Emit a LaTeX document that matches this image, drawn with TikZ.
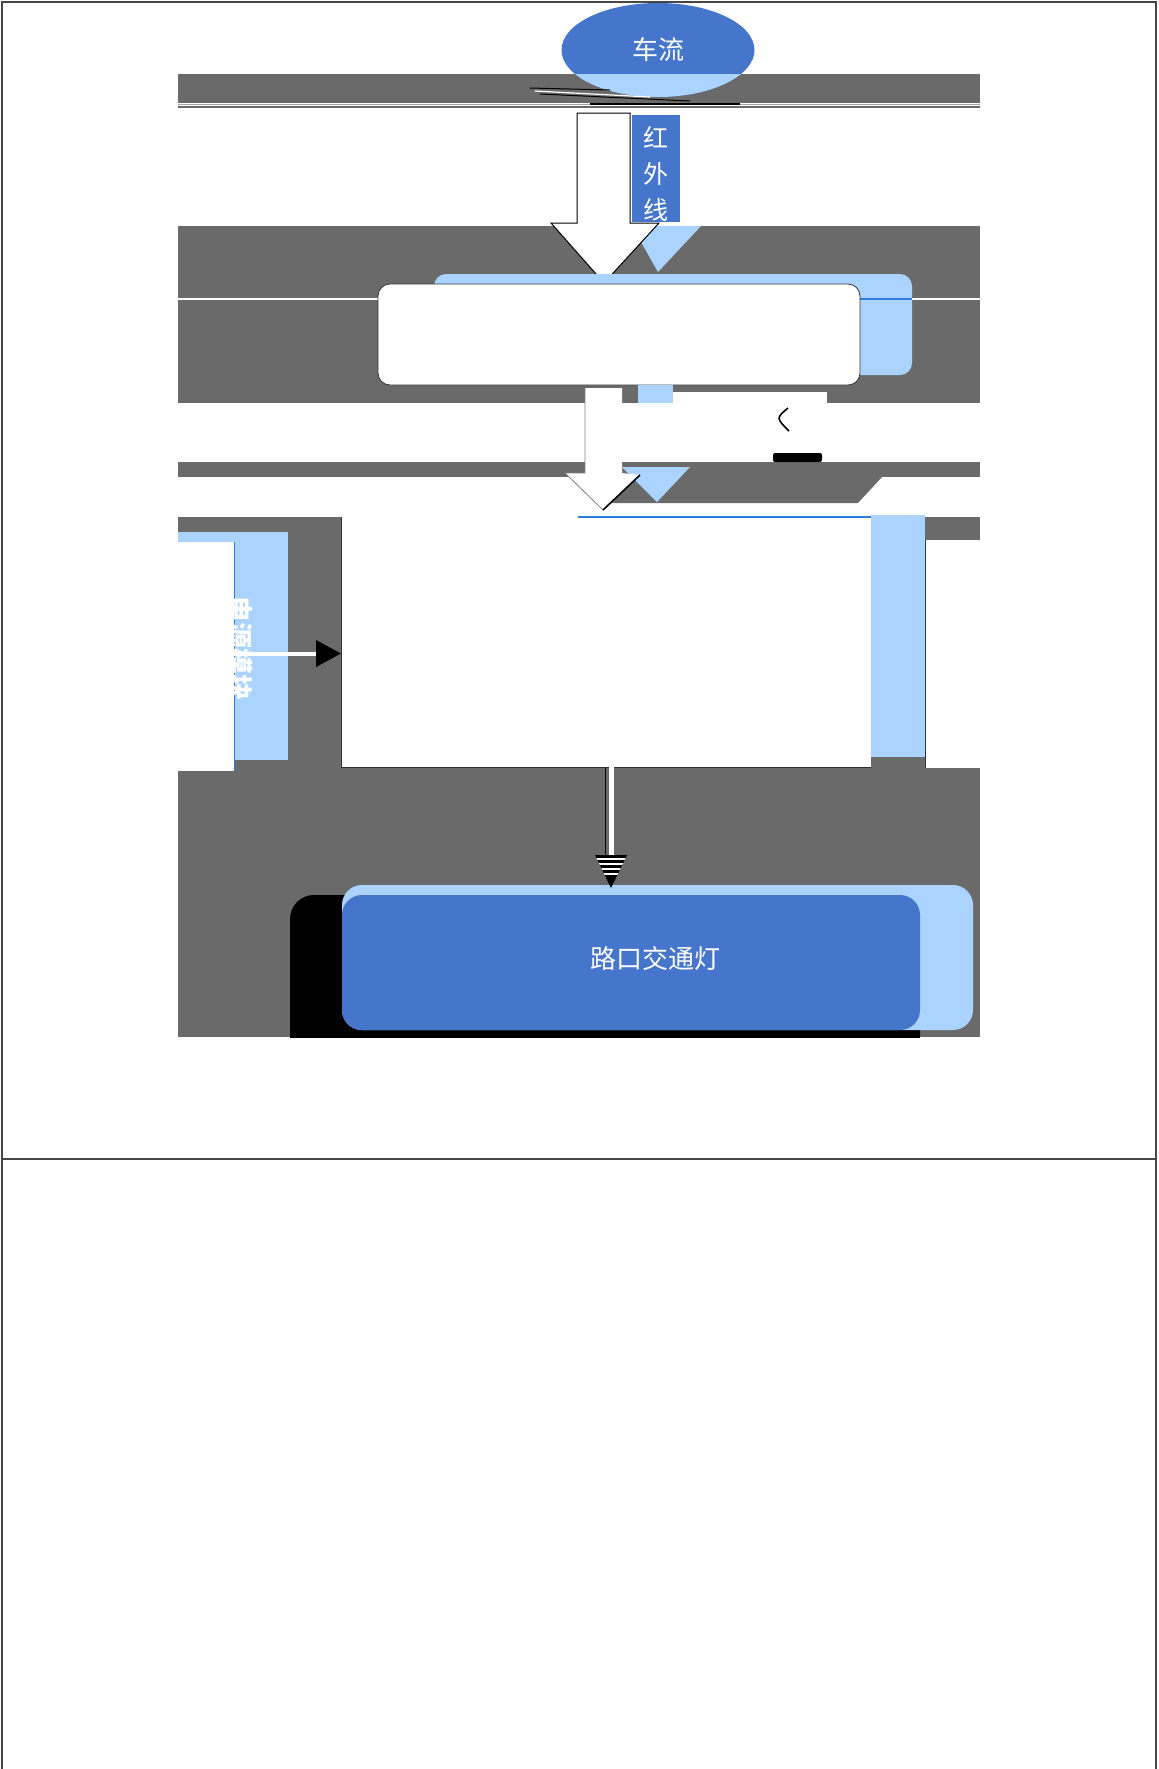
\documentclass[tikz,border=0pt]{standalone}
\usepackage{fontspec}
\usepackage{tikz}
\usetikzlibrary{shapes.geometric, arrows.meta, positioning}
\newfontfamily\cjk{Noto Sans CJK SC}
\definecolor{bggray}{RGB}{106,106,106}
\definecolor{lightblue}{RGB}{170,211,255}
\definecolor{flowblue}{RGB}{70,118,203}
\definecolor{edgeblue}{RGB}{46,125,220}
\definecolor{framegray}{RGB}{70,70,70}

\begin{document}
\begin{tikzpicture}[x=0.5pt, y=-0.5pt]
  \tikzstyle{bare} = [inner sep=0pt, outer sep=0pt]
  \tikzstyle{txt} = [bare, text=white, font=\cjk\fontsize{13}{15}\selectfont]
  \tikzstyle{panel} = [rectangle, bare, rounded corners=6pt]

  \useasboundingbox (0,0) rectangle (1158,1769);
  % page frame
  \draw[framegray, line width=1pt] (2,1769) -- (2,2) -- (1156,2) -- (1156,1769);
  \draw[framegray, line width=1pt] (2,1159) -- (1156,1159);

  % grey backdrop with white bands
  \fill[bggray] (178,74) rectangle (980,1037);
  \fill[white] (178,103) rectangle (980,226);
  \fill[white] (178,403) rectangle (980,462);
  \fill[white] (178,477) rectangle (980,517);
  \fill[bggray] (600,477) -- (882,477) -- (858,503) -- (600,503) -- cycle;
  \draw[bggray!60, line width=0.6pt] (178,104.5) -- (980,104.5);
  \draw[bggray, line width=0.6pt] (178,107) -- (980,107);
  \draw[white, line width=0.6pt] (178,299) -- (980,299);

  % car flow
  \node (flow) [ellipse, bare, fill=flowblue, text=white, font=\cjk\fontsize{13}{15}\selectfont, minimum width=96.5pt, minimum height=47pt] at (658,50) {车流};
  \begin{scope}
    \clip (178,74) rectangle (980,110);
    \fill[lightblue] (flow.center) ellipse [x radius=48.25pt, y radius=23.5pt];
  \end{scope}
  \draw[black, line width=0.5pt] (530,88) -- (610,90);
  \draw[white, line width=0.6pt] (535,91) -- (650,97);
  \draw[black, line width=0.5pt] (540,94) -- (690,101);
  \draw[black, line width=0.7pt] (590,104) -- (740,104);

  % infrared arrow
  \fill[lightblue] (632,226) -- (701,226) -- (658,272) -- cycle;
  \node (ir) [bare, fill=flowblue, minimum width=24pt, minimum height=53.5pt] at (656,168.5) {};
  \node[txt, align=center, font=\cjk\fontsize{12.5}{18}\selectfont] at ([yshift=-2.5pt]ir.center) {红\\外\\线};
  \draw[fill=white, draw=black, line width=0.5pt] (577,113) -- (630,113) -- (630,223) -- (659,223) -- (604,283) -- (551,223) -- (577,223) -- cycle;

  % detector box
  \fill[lightblue, rounded corners=6pt] (434,274) rectangle (912,375);
  \draw[edgeblue, line width=0.6pt] (860,299) -- (912,299);
  \node (detect) [panel, fill=white, draw=black!80, line width=0.4pt, minimum width=241pt, minimum height=50.5pt] at (619,334.5) {};

  % second arrow
  \fill[lightblue] (638,385) rectangle (673,403);
  \fill[lightblue] (622,467) -- (690,467) -- (657,502) -- cycle;
  \fill[white] (673,392) rectangle (827,462);
  \fill[black, rounded corners=1pt] (773,453) rectangle (822,462);
  \draw[black, line width=0.8pt] (788,408) .. controls (776,418) .. (789,431);
  \fill[white] (585,388) -- (622,388) -- (622,473) -- (640,475) -- (603,510) -- (565,473) -- (585,473) -- cycle;
  \draw[black!50, line width=0.4pt] (585,388) -- (585,473) -- (565,473) -- (603,510);
  \draw[black, line width=0.8pt] (640,475) -- (603,510);

  % controller
  \node (ctrl) [bare, fill=white, minimum width=265pt, minimum height=125pt] at (606,642) {};
  \draw[black!80, line width=0.5pt] (ctrl.north west) -- (ctrl.south west) -- (ctrl.south east);
  \draw[edgeblue, line width=0.6pt] (578,517) -- (ctrl.north east);
  \fill[lightblue] (871,515) rectangle (925,757);
  \fill[white] (925,540) rectangle (980,768);
  \draw[black!80, line width=0.5pt] (925,540) -- (925,768);

  % power supply
  \node (power) [bare, fill=lightblue, minimum width=55pt, minimum height=114pt] at (233,646) {};
  \node (pwhite) [bare, fill=white, minimum width=28pt, minimum height=114.5pt] at (206,656.5) {};
  \draw[edgeblue, line width=0.5pt] (pwhite.north east) -- (pwhite.south east);
  \node[txt, rotate=-90, font=\cjk\bfseries\fontsize{13}{15}\selectfont] at (240,648) {电源模块};
  \draw[white, line width=2pt, -{Triangle[length=12.5pt, width=13pt, color=black]}] ([yshift=1.5pt]pwhite.east) -- ([yshift=1.5pt]ctrl.west |- pwhite.east);

  % traffic light
  \begin{scope}
    \clip (178,74) rectangle (980,1037);
    \fill[black, rounded corners=12pt] (290,895) rectangle (920,1060);
  \end{scope}
  \fill[lightblue, rounded corners=10pt] (342,885) rectangle (973,1030);
  \node (lamp) [panel, fill=flowblue, rounded corners=10pt, minimum width=289pt, minimum height=67.5pt] at (631,962.5) {};
  \node[txt] at ([xshift=12pt, yshift=2pt]lamp.center) {路口交通灯};

  % controller -> light
  \coordinate (tipd) at (611,888);
  \draw[white, line width=2.5pt] (ctrl.south -| tipd) -- ([yshift=16.5pt]tipd);
  \draw[black, line width=0.5pt] (605.5,768) -- (605.5,855);
  \fill[black] (tipd) -- ++(-16,-33) -- ++(32,0) -- cycle;
  \begin{scope}
    \clip (tipd) -- ++(-16,-33) -- ++(32,0) -- cycle;
    \foreach \yy in {859,864,869,874}
      \draw[white, line width=0.6pt] (593,\yy) -- (629,\yy);
  \end{scope}
\end{tikzpicture}
\end{document}
